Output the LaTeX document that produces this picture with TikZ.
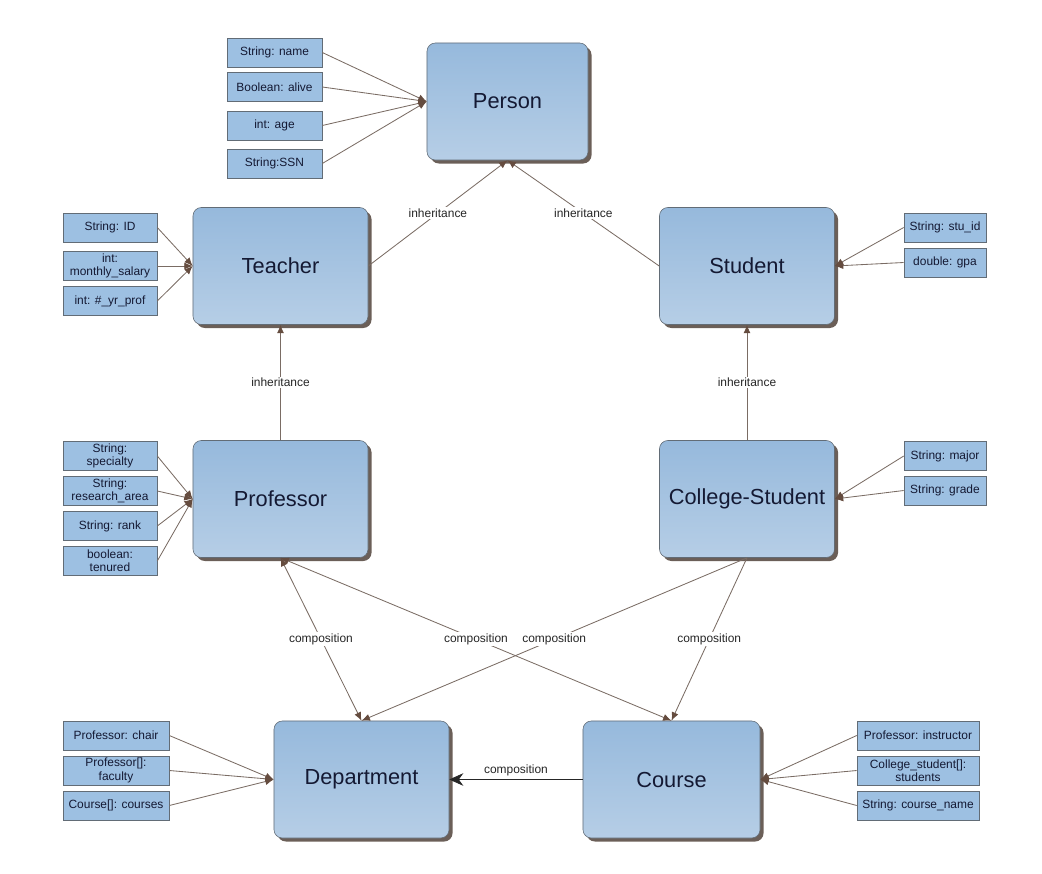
\documentclass[tikz,border=0pt]{standalone}
\usepackage{fontspec}
\setmainfont{Liberation Sans}
\usetikzlibrary{arrows.meta,shadows}
\definecolor{clsfill}{HTML}{96B9DC}
\definecolor{clsfill2}{HTML}{B6CEE6}
\definecolor{attrfill}{HTML}{9DC0E2}
\definecolor{edgec}{HTML}{7A6C64}
\definecolor{tipc}{HTML}{654C3F}
\definecolor{borderc}{HTML}{626C76}
\definecolor{shadowc}{HTML}{6B5F58}
\definecolor{txtc}{HTML}{141933}
\begin{document}
\begin{tikzpicture}[x=0.025cm,y=-0.025cm,
  cls/.style={draw=borderc, rounded corners=6pt, top color=clsfill, bottom color=clsfill2,
    minimum width=4.375cm, minimum height=2.925cm, text=txtc, font=\fontsize{15.5}{18}\selectfont,
    drop shadow={shadow xshift=2.5pt, shadow yshift=-2.5pt, fill=shadowc, opacity=1}},
  attr/.style={draw=borderc, fill=attrfill, minimum height=0.725cm, inner sep=0.5pt, align=center,
    text=txtc, font=\fontsize{8.5}{9.5}\selectfont},
  lbl/.style={fill=white, inner sep=1pt, text=black!85, font=\fontsize{8.5}{10}\selectfont},
  has/.style={color=edgec, line width=0.6pt, -{Latex[length=6pt,width=5pt,color=tipc]}},
  both/.style={has, {Latex[length=6pt,width=5pt,color=tipc]}-{Latex[length=6pt,width=5pt,color=tipc]}}]
  \useasboundingbox (0,0) rectangle (1042,874);

  % classes
  \node[cls, minimum width=4.025cm] (person) at (507.5,101.5) {Person};
  \node[cls] (teacher) at (280.5,266) {Teacher};
  \node[cls] (student) at (747,266) {Student};
  \node[cls] (professor) at (280.5,499) {Professor};
  \node[cls] (cstudent) at (747,499) {College-Student};
  \node[cls] (department) at (361.5,779.5) {Department};
  \node[cls, minimum width=4.425cm] (course) at (671.5,779.5) {Course};

  % attributes
  \node[attr, minimum width=2.375cm] (pname) at (274.5,52.5) {String: name};
  \node[attr, minimum width=2.375cm] (palive) at (274.5,87) {Boolean: alive};
  \node[attr, minimum width=2.375cm] (page) at (274.5,125.5) {int: age};
  \node[attr, minimum width=2.375cm] (pssn) at (274.5,163.5) {String:SSN};

  \node[attr, minimum width=2.35cm] (tid) at (110,227.5) {String: ID};
  \node[attr, minimum width=2.35cm] (tsal) at (110,266) {int:\\monthly\_salary};
  \node[attr, minimum width=2.35cm] (tyr) at (110,301) {int: \#\_yr\_prof};

  \node[attr, minimum width=2.05cm] (sid) at (945,227.5) {String: stu\_id};
  \node[attr, minimum width=2.05cm] (sgpa) at (945,262.5) {double: gpa};

  \node[attr, minimum width=2.35cm] (rspec) at (110,456) {String:\\specialty};
  \node[attr, minimum width=2.35cm] (rarea) at (110,491) {String:\\research\_area};
  \node[attr, minimum width=2.35cm] (rrank) at (110,526) {String: rank};
  \node[attr, minimum width=2.35cm] (rten) at (110,561) {boolean:\\tenured};

  \node[attr, minimum width=2.05cm] (cmajor) at (945,456) {String: major};
  \node[attr, minimum width=2.05cm] (cgrade) at (945,490.5) {String: grade};

  \node[attr, minimum width=2.65cm] (dchair) at (116,735.5) {Professor: chair};
  \node[attr, minimum width=2.65cm] (dfac) at (116,770.5) {Professor[]:\\faculty};
  \node[attr, minimum width=2.65cm] (dcour) at (116,805.5) {Course[]: courses};

  \node[attr, minimum width=3.05cm] (kinst) at (918,735.5) {Professor: instructor};
  \node[attr, minimum width=3.05cm] (kstud) at (918,770.5) {College\_student[]:\\students};
  \node[attr, minimum width=3.05cm] (kname) at (918,805.5) {String: course\_name};

  \path[has] (pname.east) edge (person.west) (palive.east) edge (person.west)
    (page.east) edge (person.west) (pssn.east) edge (person.west)
    (tid.east) edge (teacher.west) (tsal.east) edge (teacher.west) (tyr.east) edge (teacher.west)
    (sid.west) edge (student.east) (sgpa.west) edge (student.east)
    (rspec.east) edge (professor.west) (rarea.east) edge (professor.west)
    (rrank.east) edge (professor.west) (rten.east) edge (professor.west)
    (cmajor.west) edge (cstudent.east) (cgrade.west) edge (cstudent.east)
    (dchair.east) edge (department.west) (dfac.east) edge (department.west) (dcour.east) edge (department.west)
    (kinst.west) edge (course.east) (kstud.west) edge (course.east) (kname.west) edge (course.east);

  % inheritance
  \path[has] (teacher.east) edge node[lbl]{inheritance} (person.south)
    (student.west) edge node[lbl]{inheritance} (person.south)
    (professor.north) edge node[lbl]{inheritance} (teacher.south)
    (cstudent.north) edge node[lbl]{inheritance} (student.south);

  % composition
  \path[both] (professor.south) edge node[lbl]{composition} (department.north)
    (professor.south) edge node[lbl]{composition} (course.north);
  \path[has] (cstudent.south) edge node[lbl]{composition} (department.north)
    (cstudent.south) edge node[lbl]{composition} (course.north);
  \draw[black!85, line width=0.6pt, -{Stealth[length=10pt,width=9pt]}] (course.west) -- node[lbl, above=1pt]{composition} (department.east);
\end{tikzpicture}
\end{document}
